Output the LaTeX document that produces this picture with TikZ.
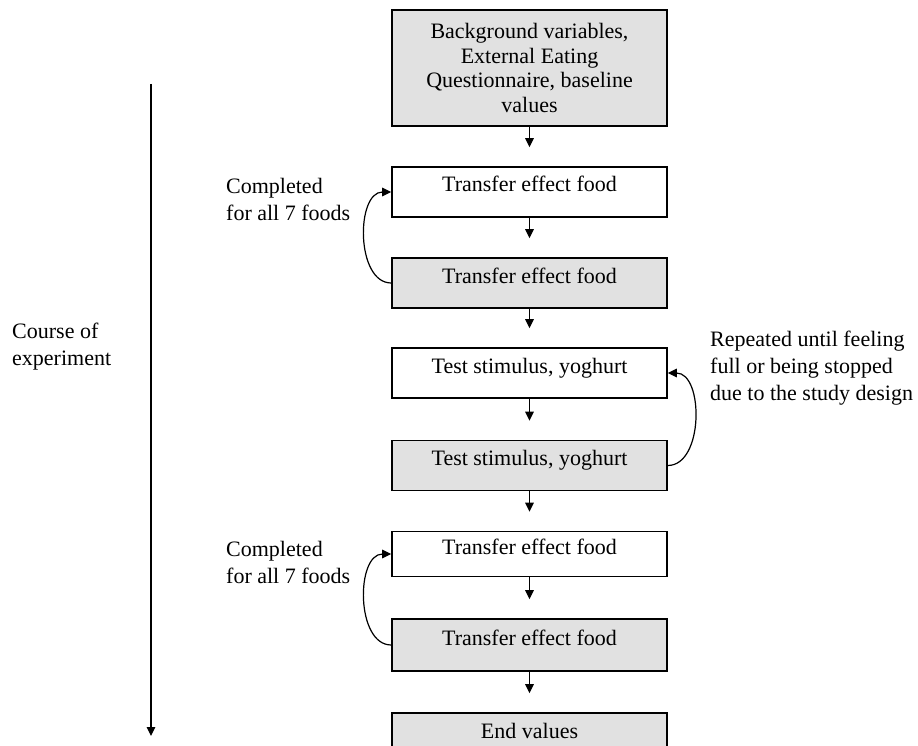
\documentclass[tikz,border=0pt]{standalone}
\usepackage{fontspec}
\setmainfont{Liberation Serif}
\usetikzlibrary{arrows.meta}
\definecolor{boxgray}{RGB}{225,225,225}

\tikzset{
  stage/.style={draw, line width=1.6pt, minimum width=275pt, inner sep=0pt,
    font=\fontsize{22}{24.5}\selectfont},
  plainstage/.style={stage, fill=white, minimum height=50pt,
    text height=15pt, text depth=15pt},
  shadedstage/.style={plainstage, fill=boxgray},
  note/.style={align=left, inner sep=0pt, font=\fontsize{22}{27}\selectfont},
  tip/.style={-{Triangle[length=9pt,width=8.5pt]}, line width=1.2pt},
  steparrow/.style={tip, shorten >=19pt},
  looparrow/.style={tip, looseness=1}
}

\begin{document}
\begin{tikzpicture}[x=1pt,y=-1pt]
  % Fix the page size
  \useasboundingbox (0,0) rectangle (918,746);

  % Draw the boxes
  \node[stage, fill=boxgray, minimum height=116pt, align=center] (baseline) at (529.5,68)
    {Background variables,\\External Eating\\Questionnaire, baseline\\values};
  \node[plainstage] (foodA) at (529.5,192) {Transfer effect food};
  \node[shadedstage] (foodB) at (529.5,283) {Transfer effect food};
  \node[plainstage] (testA) at (529.5,373) {Test stimulus, yoghurt};
  \node[shadedstage] (testB) at (529.5,465.5) {Test stimulus, yoghurt};
  \node[plainstage, minimum height=45pt] (foodC) at (529.5,554) {Transfer effect food};
  \node[shadedstage, minimum height=52pt] (foodD) at (529.5,645) {Transfer effect food};
  \node[shadedstage] (endval) at (529.5,738) {End values};

  % Draw arrows between boxes
  \foreach \a/\b in {baseline/foodA, foodA/foodB, foodB/testA, testA/testB,
                     testB/foodC, foodC/foodD, foodD/endval}
    \draw[steparrow] (\a) -- (\b);

  % Draw loops
  \draw[looparrow] (foodB.west) to[out=180,in=180] (foodA.west);
  \draw[looparrow] (testB.east) to[out=0,in=0] (testA.east);
  \draw[looparrow] (foodD.west) to[out=180,in=180] (foodC.west);

  % Draw loop labels
  \node[note, anchor=base west] (loopA) at (226,220) {Completed\\for all 7 foods};
  \node[note, anchor=base west] (loopB) at (710,400)
    {Repeated until feeling\\full or being stopped\\due to the study design};
  \node[note, anchor=base west] (loopC) at (226,583) {Completed\\for all 7 foods};

  % Draw time axis
  \coordinate (timeStart) at (151,84);
  \coordinate (timeEnd) at (151,736);
  \draw[tip] (timeStart) -- (timeEnd);
  \node[note, anchor=base west] (course) at (12,365) {Course of\\experiment};
\end{tikzpicture}
\end{document}
